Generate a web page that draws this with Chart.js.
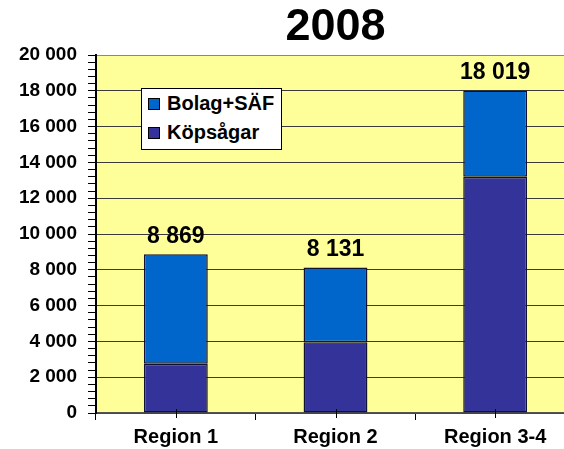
<!DOCTYPE html>
<html>
<head>
<meta charset="utf-8">
<script src="https://cdn.jsdelivr.net/npm/chart.js@4/dist/chart.umd.min.js"></script>
<style>
    html, body { margin: 0; padding: 0; background: #ffffff; overflow: hidden; }
    #wrap { position: relative; width: 564px; height: 449px; overflow: hidden; }
    #chart { position: absolute; left: 0; top: 0; }
    #legend {
        position: absolute; left: 141px; top: 88px; width: 139px; height: 60px;
        background: #ffffff; border: 1px solid #000000;
        font-family: 'Liberation Sans', Arial, sans-serif; font-weight: bold; font-size: 20px;
    }
    #legend .item { position: absolute; left: 6px; display: flex; align-items: center; }
    #legend .box { width: 10px; height: 10px; border: 1px solid #000000; margin-right: 7px; }
</style>
</head>
<body>
<div id="wrap">
    <canvas id="chart" width="575" height="449"></canvas>
    <div id="legend"></div>
</div>
<script>
const regions = ['Region 1', 'Region 2', 'Region 3-4'];
const kopsagar = [2750, 3950, 13200];
const bolagSaf = [6119, 4181, 4819];
const yTicksMax = 20000;
const yMajorStep = 2000;
const yMinorStep = 400;

const fontFamily = "'Liberation Sans', Arial, sans-serif";

// tusental med mellanslag: 8 869
function formatNum(v) {
    return String(v).replace(/\B(?=(\d{3})+(?!\d))/g, ' ');
}

const plotBackground = {
    id: 'plotBackground',
    beforeDraw: function (chart) {
        const ctx = chart.ctx;
        const a = chart.chartArea;
        ctx.save();
        ctx.fillStyle = '#FFFF99';
        ctx.fillRect(a.left, a.top, a.right - a.left, a.bottom - a.top);
        ctx.restore();
    }
};

const totalsPlugin = {
    id: 'totals',
    afterDatasetsDraw: function (chart) {
        const ctx = chart.ctx;
        const xScale = chart.scales.x;
        const yScale = chart.scales.y;
        ctx.save();
        ctx.font = 'bold 23px ' + fontFamily;
        ctx.fillStyle = '#000000';
        ctx.textAlign = 'center';
        ctx.textBaseline = 'middle';
        regions.forEach((r, i) => {
            const total = chart.data.datasets.reduce((sum, ds) => sum + ds.data[i], 0);
            ctx.fillText(formatNum(total), xScale.getPixelForValue(i), yScale.getPixelForValue(total) - 18);
        });
        // små streck mitt under staplarna
        ctx.strokeStyle = '#000000';
        ctx.lineWidth = 1;
        regions.forEach((r, i) => {
            const x = Math.round(xScale.getPixelForValue(i)) + 0.5;
            ctx.beginPath();
            ctx.moveTo(x, chart.chartArea.bottom - 4);
            ctx.lineTo(x, chart.chartArea.bottom + 5);
            ctx.stroke();
        });
        ctx.restore();
    }
};

const chart = new Chart(document.getElementById('chart').getContext('2d'), {
    type: 'bar',
    data: {
        labels: regions,
        datasets: [
            {
                label: 'Köpsågar',
                data: kopsagar,
                backgroundColor: '#333399',
                borderColor: '#111133',
                borderWidth: 1.5,
                borderSkipped: false,
                barPercentage: 0.4,
                categoryPercentage: 1.0
            },
            {
                label: 'Bolag+SÄF',
                data: bolagSaf,
                backgroundColor: '#0066CC',
                borderColor: '#111133',
                borderWidth: 1.5,
                borderSkipped: false,
                barPercentage: 0.4,
                categoryPercentage: 1.0
            }
        ]
    },
    options: {
        responsive: false,
        animation: false,
        layout: { padding: 0 },
        plugins: {
            legend: { display: false },
            tooltip: { enabled: false },
            title: {
                display: true,
                text: '2008',
                fullSize: false,
                color: '#000000',
                font: { family: fontFamily, size: 45, weight: 'bold' },
                padding: { top: 1, bottom: 0 }
            }
        },
        scales: {
            x: {
                stacked: true,
                offset: true,
                afterFit: function (scale) { scale.height = 36; },
                grid: {
                    offset: true,
                    drawOnChartArea: false,
                    drawTicks: true,
                    tickLength: 7,
                    tickColor: '#000000'
                },
                border: { color: '#555555', width: 1.5 },
                ticks: {
                    color: '#000000',
                    padding: 5,
                    font: { family: fontFamily, size: 20, weight: 'bold' }
                }
            },
            y: {
                stacked: true,
                min: 0,
                max: yTicksMax,
                afterFit: function (scale) { scale.width = 96; },
                grid: {
                    color: function (c) {
                        const v = c.tick ? c.tick.value : 0;
                        if (v === yTicksMax) return '#888888';
                        return v % yMajorStep === 0 ? '#3a3a3a' : 'rgba(0,0,0,0)';
                    },
                    lineWidth: 1,
                    tickColor: '#000000',
                    tickLength: 8
                },
                border: { color: '#000000', width: 2 },
                ticks: {
                    stepSize: yMinorStep,
                    autoSkip: false,
                    color: '#000000',
                    padding: 11,
                    font: { family: fontFamily, size: 19, weight: 'bold' },
                    callback: function (v) {
                        return v % yMajorStep === 0 ? formatNum(v) : '';
                    }
                }
            }
        }
    },
    plugins: [plotBackground, totalsPlugin]
});

// förklaring i rutan, översta serien först
const legendEl = document.getElementById('legend');
chart.data.datasets.slice().reverse().forEach((ds, i) => {
    const item = document.createElement('div');
    item.className = 'item';
    item.style.top = (i === 0 ? 3 : 32) + 'px';
    const box = document.createElement('span');
    box.className = 'box';
    box.style.background = ds.backgroundColor;
    const txt = document.createElement('span');
    txt.textContent = ds.label;
    item.appendChild(box);
    item.appendChild(txt);
    legendEl.appendChild(item);
});
</script>
</body>
</html>
